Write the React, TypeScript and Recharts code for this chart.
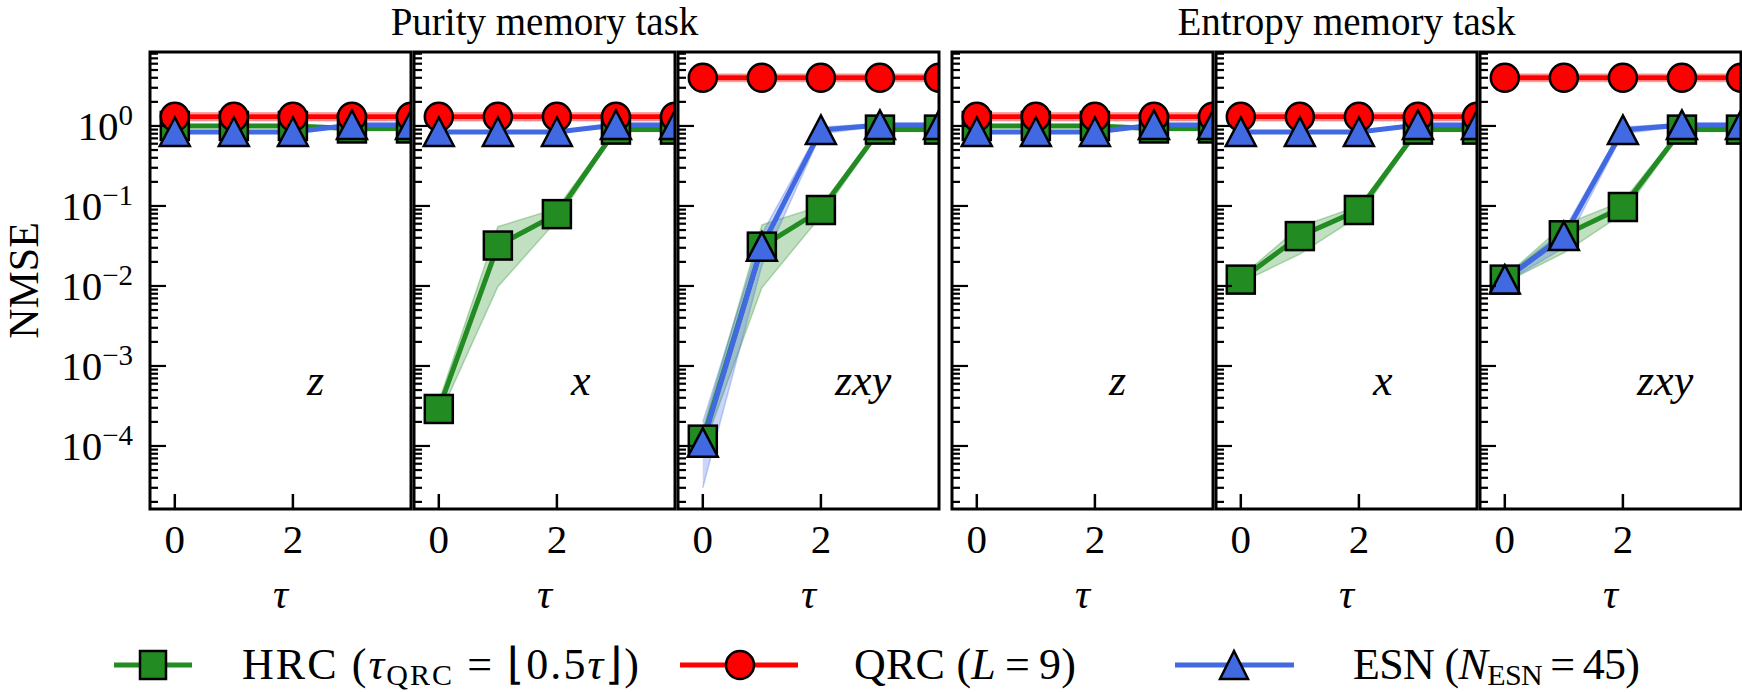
import React from 'react';
import { ComposedChart, Line, Area, XAxis, YAxis } from 'recharts';

// ---------- data ----------
const tau = [0, 1, 2, 3, 4];
const xTickValues = [0, 2];
const xDomain = [-0.42, 4];
const yDomain = [1.63e-5, 8.4];
const panelLabels = ['z', 'x', 'zxy', 'z', 'x', 'zxy'];
const taskTitles = ['Purity memory task', 'Entropy memory task'];

// Purity memory task, z
const purZHrc = [1.0, 1.0, 1.0, 0.93, 0.93];
const purZHrcLo = [0.96, 0.96, 0.96, 0.88, 0.88];
const purZHrcHi = [1.04, 1.04, 1.04, 0.98, 0.98];
const purZQrc = [1.3, 1.3, 1.3, 1.3, 1.3];
const purZQrcLo = [1.16, 1.16, 1.16, 1.16, 1.16];
const purZQrcHi = [1.46, 1.46, 1.46, 1.46, 1.46];
const purZEsn = [0.84, 0.84, 0.84, 1.03, 1.03];
const purZEsnLo = [0.81, 0.81, 0.81, 0.99, 0.99];
const purZEsnHi = [0.87, 0.87, 0.87, 1.07, 1.07];

// Purity memory task, x
const purXHrc = [2.9e-4, 0.032, 0.079, 0.9, 0.9];
const purXHrcLo = [2.3e-4, 0.0098, 0.066, 0.85, 0.85];
const purXHrcHi = [3.6e-4, 0.055, 0.093, 0.95, 0.95];
const purXQrc = [1.3, 1.3, 1.3, 1.3, 1.3];
const purXQrcLo = [1.16, 1.16, 1.16, 1.16, 1.16];
const purXQrcHi = [1.46, 1.46, 1.46, 1.46, 1.46];
const purXEsn = [0.84, 0.84, 0.84, 1.03, 1.03];
const purXEsnLo = [0.81, 0.81, 0.81, 0.99, 0.99];
const purXEsnHi = [0.87, 0.87, 0.87, 1.07, 1.07];

// Purity memory task, zxy
const purZxyHrc = [1.2e-4, 0.031, 0.089, 0.9, 0.9];
const purZxyHrcLo = [0.9e-4, 0.0095, 0.075, 0.85, 0.85];
const purZxyHrcHi = [1.6e-4, 0.058, 0.1, 0.95, 0.95];
const purZxyQrc = [4.0, 4.0, 4.0, 4.0, 4.0];
const purZxyQrcLo = [3.6, 3.6, 3.6, 3.6, 3.6];
const purZxyQrcHi = [4.45, 4.45, 4.45, 4.45, 4.45];
const purZxyEsn = [1.1e-4, 0.031, 0.89, 1.03, 1.03];
const purZxyEsnLo = [3.0e-5, 0.018, 0.8, 0.99, 0.99];
const purZxyEsnHi = [2.0e-4, 0.045, 0.97, 1.07, 1.07];

// Entropy memory task, z
const entZHrc = [1.0, 1.0, 1.0, 0.93, 0.93];
const entZHrcLo = [0.96, 0.96, 0.96, 0.88, 0.88];
const entZHrcHi = [1.04, 1.04, 1.04, 0.98, 0.98];
const entZQrc = [1.3, 1.3, 1.3, 1.3, 1.3];
const entZQrcLo = [1.16, 1.16, 1.16, 1.16, 1.16];
const entZQrcHi = [1.46, 1.46, 1.46, 1.46, 1.46];
const entZEsn = [0.84, 0.84, 0.84, 1.03, 1.03];
const entZEsnLo = [0.81, 0.81, 0.81, 0.99, 0.99];
const entZEsnHi = [0.87, 0.87, 0.87, 1.07, 1.07];

// Entropy memory task, x
const entXHrc = [0.012, 0.042, 0.089, 0.9, 0.9];
const entXHrcLo = [0.011, 0.025, 0.075, 0.85, 0.85];
const entXHrcHi = [0.013, 0.055, 0.1, 0.95, 0.95];
const entXQrc = [1.3, 1.3, 1.3, 1.3, 1.3];
const entXQrcLo = [1.16, 1.16, 1.16, 1.16, 1.16];
const entXQrcHi = [1.46, 1.46, 1.46, 1.46, 1.46];
const entXEsn = [0.84, 0.84, 0.84, 1.03, 1.03];
const entXEsnLo = [0.81, 0.81, 0.81, 0.99, 0.99];
const entXEsnHi = [0.87, 0.87, 0.87, 1.07, 1.07];

// Entropy memory task, zxy
const entZxyHrc = [0.012, 0.043, 0.097, 0.9, 0.9];
const entZxyHrcLo = [0.011, 0.026, 0.08, 0.85, 0.85];
const entZxyHrcHi = [0.013, 0.058, 0.115, 0.95, 0.95];
const entZxyQrc = [4.0, 4.0, 4.0, 4.0, 4.0];
const entZxyQrcLo = [3.6, 3.6, 3.6, 3.6, 3.6];
const entZxyQrcHi = [4.45, 4.45, 4.45, 4.45, 4.45];
const entZxyEsn = [0.012, 0.042, 0.89, 1.03, 1.03];
const entZxyEsnLo = [0.011, 0.03, 0.8, 0.99, 0.99];
const entZxyEsnHi = [0.013, 0.05, 0.97, 1.07, 1.07];

// ---------- styling / layout ----------
const FONT = "'Liberation Serif', 'Times New Roman', serif";
const GREEN = '#228B22';
const RED = '#FF0000';
const BLUE = '#4169E1';
const PANEL_TOP = 52;
const PH = 457;
const PW = 261;
const MT = 4;
const MR = 4;
const XH = 110;
const CHART_H = MT + PH + XH;
const LW = 5;
const panelLefts = [150, 414, 678, 952, 1216, 1480];

const yTickValues: number[] = [];
for (let k = -5; k <= 0; k++) {
  for (let m = 1; m <= 9; m++) {
    const v = m * Math.pow(10, k);
    if (v >= yDomain[0] && v <= yDomain[1]) yTickValues.push(v);
  }
}

const seriesSets = [
  [purZHrc, purZHrcLo, purZHrcHi, purZQrc, purZQrcLo, purZQrcHi, purZEsn, purZEsnLo, purZEsnHi],
  [purXHrc, purXHrcLo, purXHrcHi, purXQrc, purXQrcLo, purXQrcHi, purXEsn, purXEsnLo, purXEsnHi],
  [purZxyHrc, purZxyHrcLo, purZxyHrcHi, purZxyQrc, purZxyQrcLo, purZxyQrcHi, purZxyEsn, purZxyEsnLo, purZxyEsnHi],
  [entZHrc, entZHrcLo, entZHrcHi, entZQrc, entZQrcLo, entZQrcHi, entZEsn, entZEsnLo, entZEsnHi],
  [entXHrc, entXHrcLo, entXHrcHi, entXQrc, entXQrcLo, entXQrcHi, entXEsn, entXEsnLo, entXEsnHi],
  [entZxyHrc, entZxyHrcLo, entZxyHrcHi, entZxyQrc, entZxyQrcLo, entZxyQrcHi, entZxyEsn, entZxyEsnLo, entZxyEsnHi],
];

const buildRows = (s: number[][]) =>
  tau.map((t, i) => ({
    tau: t,
    hrc: s[0][i],
    hrcBand: [s[1][i], s[2][i]],
    qrc: s[3][i],
    qrcBand: [s[4][i], s[5][i]],
    esn: s[6][i],
    esnBand: [s[7][i], s[8][i]],
  }));

// ---------- markers ----------
const squareDot = (p: any) =>
  p.cx == null ? <g key={`s${p.index}`} /> : (
    <rect key={`s${p.index}`} x={p.cx - 14} y={p.cy - 14} width={28} height={28}
      fill={GREEN} stroke="#000" strokeWidth={2.5} />
  );
const circleDot = (p: any) =>
  p.cx == null ? <g key={`c${p.index}`} /> : (
    <circle key={`c${p.index}`} cx={p.cx} cy={p.cy} r={14} fill={RED} stroke="#000" strokeWidth={2.5} />
  );
const triDot = (p: any) =>
  p.cx == null ? <g key={`t${p.index}`} /> : (
    <polygon key={`t${p.index}`}
      points={`${p.cx},${p.cy - 14.5} ${p.cx - 15},${p.cy + 14} ${p.cx + 15},${p.cy + 14}`}
      fill={BLUE} stroke="#000" strokeWidth={2.5} strokeLinejoin="miter" />
  );

// ---------- ticks ----------
const makeYTick = (axisX: number, showLabels: boolean) => (props: any) => {
  const v = props.payload.value;
  const y = props.payload.coordinate ?? props.y;
  const lg = Math.log10(v);
  const major = Math.abs(lg - Math.round(lg)) < 1e-6;
  const len = major ? 16 : 8;
  const exp = Math.round(lg);
  return (
    <g>
      <line x1={axisX} x2={axisX + len} y1={y} y2={y} stroke="#000" strokeWidth={2.2} />
      {showLabels && major ? (
        <text x={axisX - 17} y={y + 14} textAnchor="end" fontSize={41} fontFamily={FONT} fill="#000">
          <tspan>10</tspan>
          <tspan dy={-15} fontSize={29}>{exp < 0 ? `\u2212${-exp}` : `${exp}`}</tspan>
        </text>
      ) : null}
    </g>
  );
};

const makeXTick = (bottom: number) => (props: any) => {
  const x = props.payload.coordinate ?? props.x;
  return (
    <g>
      <line x1={x} x2={x} y1={bottom} y2={bottom - 15} stroke="#000" strokeWidth={2.5} />
      <text x={x} y={bottom + 44} textAnchor="middle" fontSize={41} fontFamily={FONT} fill="#000">
        {props.payload.value}
      </text>
    </g>
  );
};

function Panel({ index }: { index: number }) {
  const first = index === 0;
  const YW = first ? 150 : 2;
  const left = panelLefts[index];
  const chartLeft = left - YW;
  const W = YW + PW + MR;
  const rows = buildRows(seriesSets[index]);
  return (
    <div style={{ position: 'absolute', left: chartLeft, top: PANEL_TOP - MT }}>
      <ComposedChart width={W} height={CHART_H} data={rows} margin={{ top: MT, right: MR, left: 0, bottom: 0 }}>
        <XAxis type="number" dataKey="tau" domain={xDomain} allowDataOverflow ticks={xTickValues}
          interval={0} tick={makeXTick(MT + PH)} tickLine={false} axisLine={false} height={XH}
          label={{ value: '\u03c4', position: 'insideBottom', offset: 11, fill: '#000', fontSize: 42,
            fontStyle: 'italic', fontFamily: FONT }} />
        <YAxis type="number" scale="log" domain={yDomain} allowDataOverflow ticks={yTickValues}
          interval={0} tick={makeYTick(YW, first)} tickLine={false} axisLine={false} width={YW} />
        <Area type="linear" dataKey="hrcBand" stroke={GREEN} strokeOpacity={0.3} strokeWidth={1.5}
          fill={GREEN} fillOpacity={0.28} isAnimationActive={false} dot={false} activeDot={false} />
        <Area type="linear" dataKey="qrcBand" stroke={RED} strokeOpacity={0.3} strokeWidth={1.5}
          fill={RED} fillOpacity={0.28} isAnimationActive={false} dot={false} activeDot={false} />
        <Area type="linear" dataKey="esnBand" stroke={BLUE} strokeOpacity={0.3} strokeWidth={1.5}
          fill={BLUE} fillOpacity={0.28} isAnimationActive={false} dot={false} activeDot={false} />
        <Line type="linear" dataKey="hrc" stroke={GREEN} strokeWidth={LW} dot={squareDot}
          activeDot={false} isAnimationActive={false} />
        <Line type="linear" dataKey="qrc" stroke={RED} strokeWidth={LW} dot={circleDot}
          activeDot={false} isAnimationActive={false} />
        <Line type="linear" dataKey="esn" stroke={BLUE} strokeWidth={LW} dot={triDot}
          activeDot={false} isAnimationActive={false} />
      </ComposedChart>
    </div>
  );
}

function Overlay() {
  const legendY = 665;
  const base = legendY + 14;
  const LF = 44;
  const SF = 30;
  return (
    <svg width={1742} height={692} style={{ position: 'absolute', left: 0, top: 0, pointerEvents: 'none' }}
      fontFamily={FONT}>
      {panelLefts.map((l, i) => (
        <rect key={`f${i}`} x={l} y={PANEL_TOP} width={PW} height={PH} fill="none" stroke="#000" strokeWidth={3} />
      ))}
      <text x={(panelLefts[0] + panelLefts[2] + PW) / 2} y={35} textAnchor="middle" fontSize={39}>{taskTitles[0]}</text>
      <text x={(panelLefts[3] + panelLefts[5] + PW) / 2} y={35} textAnchor="middle" fontSize={39}>{taskTitles[1]}</text>
      <text transform={`translate(38, ${PANEL_TOP + PH / 2}) rotate(-90)`} textAnchor="middle" fontSize={42}>NMSE</text>
      {panelLefts.map((l, i) => (
        <text key={`p${i}`} x={l + 157} y={395} fontSize={44} fontStyle="italic">{panelLabels[i]}</text>
      ))}
      {/* legend */}
      <line x1={114} x2={192} y1={legendY} y2={legendY} stroke={GREEN} strokeWidth={LW} />
      <rect x={153 - 13} y={legendY - 14} width={26} height={28} fill={GREEN} stroke="#000" strokeWidth={2.5} />
      <text x={242} y={base} fontSize={LF} textLength={397} lengthAdjust="spacing">
        HRC (<tspan fontStyle="italic">{'\u03c4'}</tspan>
        <tspan fontSize={SF} dy={6}>QRC</tspan>
        <tspan dy={-6}>{' = \u230a0.5'}</tspan>
        <tspan fontStyle="italic">{'\u03c4'}</tspan>{'\u230b)'}
      </text>
      <line x1={680} x2={798} y1={legendY} y2={legendY} stroke={RED} strokeWidth={LW} />
      <circle cx={740} cy={legendY} r={14} fill={RED} stroke="#000" strokeWidth={2.5} />
      <text x={854} y={base} fontSize={LF} textLength={222} lengthAdjust="spacing">
        QRC (<tspan fontStyle="italic">L</tspan>{'\u2009=\u20099)'}
      </text>
      <line x1={1175} x2={1294} y1={legendY} y2={legendY} stroke={BLUE} strokeWidth={LW} />
      <polygon points={`1234,${legendY - 14} 1220,${legendY + 14} 1248,${legendY + 14}`} fill={BLUE}
        stroke="#000" strokeWidth={2.5} />
      <text x={1353} y={base} fontSize={LF} textLength={287} lengthAdjust="spacing">
        ESN (<tspan fontStyle="italic">N</tspan>
        <tspan fontSize={SF} dy={6}>ESN</tspan>
        <tspan dy={-6}>{'\u2009=\u200945)'}</tspan>
      </text>
    </svg>
  );
}

export default function App() {
  return (
    <div style={{ position: 'absolute', left: 0, top: 0, width: 1742, height: 692, background: '#fff', overflow: 'hidden' }}>
      {panelLefts.map((_, i) => <Panel key={i} index={i} />)}
      <Overlay />
    </div>
  );
}
